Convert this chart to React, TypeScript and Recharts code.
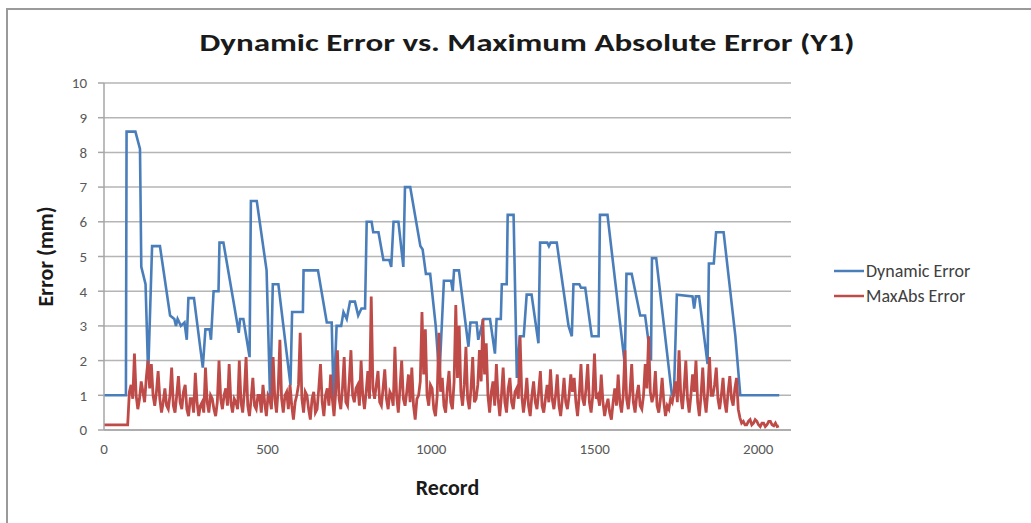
import { LineChart, Line, XAxis, YAxis, CartesianGrid, Legend } from "recharts";

// Dynamic Error: step-like trace, read as (record, error) corner points
const dynamicRecords = [
  0, 67, 69, 96, 110, 114, 127, 135, 147, 171, 202, 215, 220, 225, 235, 246, 253, 258, 275, 302,
  310, 323, 327, 335, 350, 353, 365, 405, 412, 416, 426, 445, 449, 467, 497, 508, 516, 533, 570, 575,
  608, 610, 654, 681, 696, 702, 711, 725, 732, 742, 752, 767, 777, 787, 798, 803, 818, 823, 839, 854,
  872, 878, 885, 900, 915, 920, 936, 967, 974, 984, 997, 1014, 1025, 1039, 1061, 1066, 1070, 1085, 1114, 1120,
  1139, 1144, 1160, 1180, 1195, 1200, 1213, 1216, 1231, 1234, 1252, 1262, 1271, 1283, 1292, 1307, 1328, 1333, 1355, 1360,
  1365, 1384, 1420, 1430, 1435, 1453, 1458, 1471, 1491, 1512, 1516, 1539, 1592, 1597, 1613, 1639, 1654, 1672, 1675, 1688,
  1736, 1742, 1751, 1799, 1804, 1809, 1819, 1845, 1849, 1864, 1871, 1894, 1930, 1945, 2064,
];
const dynamicValues = [
  1.0, 1.0, 8.6, 8.6, 8.1, 4.7, 4.2, 1.6, 5.3, 5.3, 3.3, 3.2, 3.0, 3.2, 3.0, 3.1, 2.6, 3.8, 3.8, 1.8,
  2.9, 2.9, 2.6, 4.0, 4.0, 5.4, 5.4, 3.2, 2.8, 3.2, 3.2, 2.1, 6.6, 6.6, 4.6, 0.8, 4.2, 4.2, 1.3, 3.4,
  3.4, 4.6, 4.6, 3.1, 3.1, 0.8, 3.0, 3.0, 3.4, 3.2, 3.7, 3.7, 3.3, 3.5, 3.5, 6.0, 6.0, 5.7, 5.7, 4.9,
  4.9, 4.7, 6.0, 6.0, 4.7, 7.0, 7.0, 5.3, 5.2, 4.5, 4.5, 3.0, 1.5, 4.3, 4.3, 4.0, 4.6, 4.6, 2.4, 3.1,
  3.1, 2.6, 3.2, 3.2, 2.2, 3.2, 3.2, 4.2, 4.2, 6.2, 6.2, 1.5, 2.7, 2.7, 3.9, 3.9, 2.5, 5.4, 5.4, 5.3,
  5.4, 5.4, 3.0, 2.7, 4.2, 4.2, 4.1, 4.1, 2.7, 2.7, 6.2, 6.2, 1.9, 4.5, 4.5, 3.3, 3.3, 2.0, 4.95, 4.95,
  1.0, 1.0, 3.9, 3.85, 3.5, 3.85, 3.85, 1.9, 4.8, 4.8, 5.7, 5.7, 2.7, 1.0, 1.0,
];

// MaxAbs Error: sampled every RECORD_STEP records
const RECORD_STEP = 5.17;
const maxAbsValues = [
  0.15, 0.15, 0.15, 0.15, 0.15, 0.15, 0.15, 0.15, 0.15, 0.15, 0.15, 0.15, 0.15, 0.15, 0.15, 1.1, 1.3, 0.9, 2.2, 1.0,
  0.6, 0.9, 1.4, 1.1, 0.8, 1.5, 2.0, 1.2, 1.9, 1.0, 0.7, 1.1, 1.7, 0.9, 0.5, 0.8, 1.2, 0.7, 0.6, 1.0,
  1.8, 0.7, 0.5, 1.0, 1.55, 0.8, 0.6, 1.1, 1.3, 0.6, 0.4, 0.9, 0.9, 0.5, 1.65, 0.8, 0.4, 0.7, 0.8, 0.5,
  1.8, 0.8, 0.5, 1.0, 0.9, 0.6, 0.4, 0.8, 2.0, 0.9, 0.6, 1.0, 1.2, 0.7, 1.9, 0.8, 0.5, 0.9, 0.8, 0.6,
  2.0, 0.8, 0.5, 1.1, 2.1, 0.7, 0.4, 0.9, 1.5, 0.7, 0.6, 1.0, 1.0, 0.5, 1.3, 0.8, 0.4, 1.0, 0.9, 0.6,
  2.1, 0.9, 0.5, 1.2, 2.6, 0.9, 0.5, 1.0, 1.1, 0.6, 1.3, 0.7, 0.3, 0.8, 1.0, 1.3, 2.8, 0.9, 0.5, 1.1,
  1.0, 0.6, 0.3, 0.9, 1.1, 0.5, 0.6, 1.2, 1.9, 0.8, 0.4, 1.0, 1.2, 0.7, 1.6, 0.9, 0.4, 1.1, 2.3, 0.9,
  0.6, 1.2, 2.1, 0.8, 0.7, 1.4, 2.3, 1.0, 0.8, 1.2, 1.3, 0.7, 2.0, 1.0, 0.6, 1.1, 1.7, 0.9, 3.85, 1.2,
  0.9, 1.3, 1.7, 0.8, 0.7, 1.2, 1.75, 0.9, 0.6, 1.1, 1.0, 0.7, 2.4, 1.0, 0.5, 1.2, 2.0, 0.9, 0.7, 1.1,
  1.6, 0.8, 1.8, 0.7, 0.3, 0.9, 1.0, 1.4, 3.4, 1.6, 2.9, 1.0, 0.7, 1.3, 1.2, 0.6, 0.4, 1.0, 2.8, 1.1,
  1.5, 0.7, 0.5, 1.2, 1.7, 0.8, 0.6, 1.4, 3.6, 1.5, 3.0, 1.1, 0.7, 1.3, 2.4, 0.9, 0.6, 1.2, 2.1, 0.8,
  0.9, 1.3, 2.3, 1.4, 3.2, 1.6, 2.5, 1.0, 0.5, 1.1, 1.4, 0.7, 1.9, 0.9, 0.4, 1.0, 1.8, 0.8, 0.5, 1.2,
  1.5, 0.8, 0.6, 1.1, 1.2, 0.9, 2.7, 1.0, 0.5, 0.9, 1.5, 0.7, 0.4, 1.0, 1.4, 0.8, 0.6, 1.1, 1.7, 0.7,
  0.5, 0.9, 1.3, 0.8, 1.75, 0.9, 0.6, 1.0, 1.6, 0.7, 0.4, 0.9, 1.5, 0.8, 0.6, 1.0, 1.6, 1.1, 1.5, 0.8,
  0.4, 1.0, 1.9, 0.9, 0.7, 1.2, 1.9, 0.8, 0.5, 1.0, 2.2, 0.9, 1.0, 0.7, 1.6, 0.8, 0.4, 0.7, 0.9, 0.5,
  0.3, 0.8, 1.2, 0.7, 1.6, 0.8, 0.5, 1.0, 2.3, 0.9, 0.6, 1.1, 1.9, 0.8, 0.5, 1.0, 1.3, 0.7, 0.6, 1.0,
  1.9, 1.2, 2.7, 1.1, 0.8, 1.0, 1.7, 0.7, 0.5, 0.9, 1.5, 0.8, 0.4, 0.7, 0.6, 0.9, 0.8, 1.1, 1.4, 0.8,
  2.3, 1.0, 0.6, 1.2, 2.0, 0.9, 0.5, 1.0, 1.6, 1.1, 2.0, 0.8, 0.4, 1.0, 1.8, 0.9, 0.5, 1.1, 2.1, 1.0,
  1.0, 1.3, 1.8, 0.9, 0.6, 1.0, 1.5, 0.8, 0.5, 1.1, 1.55, 0.9, 0.7, 1.2, 1.5, 0.6, 0.35, 0.2, 0.25, 0.15,
  0.15, 0.25, 0.3, 0.15, 0.2, 0.3, 0.25, 0.15, 0.1, 0.2, 0.2, 0.1, 0.15, 0.25, 0.25, 0.15, 0.12, 0.2, 0.1, 0.12,
];

const xTicks = [0, 500, 1000, 1500, 2000];
const yTicks = [0, 1, 2, 3, 4, 5, 6, 7, 8, 9, 10];

const seriesNames = ["Dynamic Error", "MaxAbs Error"];
const seriesColors = ["#4a7ebb", "#be4b48"];

const dynamicData = dynamicRecords.map((x, i) => ({ x, y: dynamicValues[i] }));
const maxAbsData = maxAbsValues.map((y, i) => ({ x: i * RECORD_STEP, y }));

const font = "Carlito, Calibri, Lato, sans-serif";

function LegendBox() {
  return (
    <div style={{ fontFamily: font, fontSize: 18, color: "#404040" }}>
      {seriesNames.map((name, i) => (
        <div key={name} style={{ display: "flex", alignItems: "center", height: 25 }}>
          <svg width={32} height={6}>
            <line x1={0} y1={3} x2={30} y2={3} stroke={seriesColors[i]} strokeWidth={2.5} />
          </svg>
          <span>{name}</span>
        </div>
      ))}
    </div>
  );
}

export default function App() {
  return (
    <div style={{ position: "absolute", left: 0, top: 0, width: 1031, height: 523, background: "#fff", overflow: "hidden" }}>
      <div style={{ position: "absolute", left: 6, top: 8, width: 1100, height: 600, borderLeft: "2px solid #9a9a9a", borderTop: "2px solid #9a9a9a" }} />
      <div style={{ position: "absolute", left: 0, top: 0 }}>
        <LineChart width={1031} height={523} margin={{ top: 83, right: 240, bottom: 63, left: 40 }}>
          <text x={527} y={51} textAnchor="middle" fontFamily={font} fontWeight="bold" fontSize={24} fill="#1a1a1a" textLength={655} lengthAdjust="spacingAndGlyphs">
            Dynamic Error vs. Maximum Absolute Error  (Y1)
          </text>
          <CartesianGrid vertical={false} stroke="#b5b5b5" strokeWidth={1.5} />
          <XAxis
            type="number"
            dataKey="x"
            domain={[0, 2100]}
            ticks={xTicks}
            allowDuplicatedCategory={false}
            height={30}
            axisLine={{ stroke: "#a6a6a6", strokeWidth: 1.5 }}
            tickLine={false}
            tickSize={0}
            tickMargin={13}
            tick={{ fontFamily: font, fontSize: 15, fill: "#595959" }}
            label={{ value: "Record", position: "bottom", offset: 19, style: { fontFamily: font, fontWeight: "bold", fontSize: 22, fill: "#1a1a1a" } }}
          />
          <YAxis
            type="number"
            domain={[0, 10]}
            ticks={yTicks}
            width={64}
            axisLine={{ stroke: "#a6a6a6", strokeWidth: 1.5 }}
            tickLine={{ stroke: "#a6a6a6", strokeWidth: 1.5 }}
            tickSize={6}
            tickMargin={11}
            tick={{ fontFamily: font, fontSize: 15, fill: "#595959" }}
            label={{ value: "Error (mm)", angle: -90, position: "insideLeft", offset: 5, style: { textAnchor: "middle", fontFamily: font, fontWeight: "bold", fontSize: 22, fill: "#1a1a1a" } }}
          />
          <Line data={dynamicData} dataKey="y" name={seriesNames[0]} stroke={seriesColors[0]} strokeWidth={2.6} dot={false} isAnimationActive={false} />
          <Line data={maxAbsData} dataKey="y" name={seriesNames[1]} stroke={seriesColors[1]} strokeWidth={2.8} dot={false} isAnimationActive={false} />
          <Legend layout="horizontal" verticalAlign="middle" align="center" wrapperStyle={{ left: 834, top: 258, width: 200 }} content={() => <LegendBox />} />
        </LineChart>
      </div>
    </div>
  );
}
